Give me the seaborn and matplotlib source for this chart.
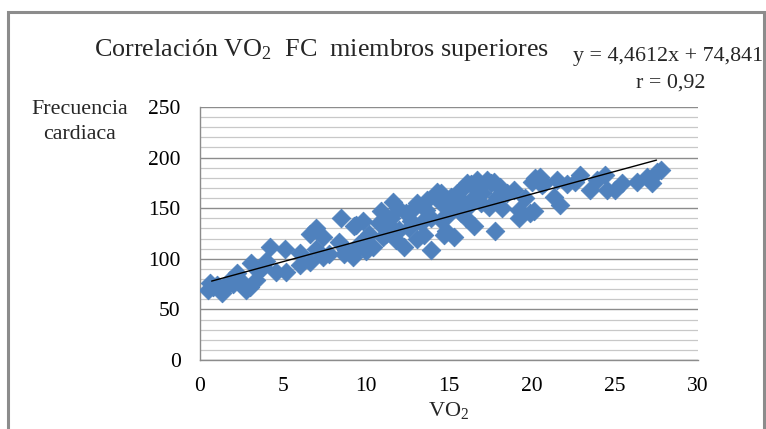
import numpy as np
import pandas as pd
import matplotlib
matplotlib.use("Agg")
import matplotlib.pyplot as plt
import seaborn as sns
from matplotlib.patches import Rectangle

# ---- data ----
vo2 = [0.5, 0.6, 0.8, 1.0, 1.3, 1.5, 1.8, 2.0, 2.2, 2.4, 2.6, 2.8, 3.0, 3.1, 3.4, 3.5, 3.8, 4.2, 4.6, 5.1,
       5.2, 4.0, 6.0, 6.0, 6.6, 6.6, 7.0, 7.4, 7.4, 7.0, 7.8, 8.4, 8.5, 8.7, 8.8, 9.2, 9.4, 9.6, 9.6, 9.8,
       9.9, 9.3, 10.0, 10.4, 10.8, 10.9, 11.2, 11.4, 11.6, 11.8, 11.9, 12.3, 12.4, 12.7, 13.1, 13.1, 13.3, 13.5, 13.7, 13.9,
       13.9, 14.3, 14.5, 14.5, 14.5, 14.7, 14.9, 12.0, 12.8, 11.0, 10.2, 15.1, 15.1, 15.3, 15.5, 15.7, 15.7, 15.9, 16.1, 16.3,
       16.3, 16.5, 16.7, 16.9, 17.0, 17.3, 17.4, 17.7, 17.8, 17.9, 18.1, 18.5, 18.9, 18.2, 16.0, 19.2, 19.2, 20.1, 20.0, 20.5,
       20.6, 21.3, 21.7, 21.5, 22.1, 22.9, 22.6, 23.5, 23.9, 24.4, 24.5, 25.0, 25.4, 26.3, 26.9, 27.2, 27.5, 27.8, 19.6, 14.8,
       16.1, 16.7, 17.5, 20.2, 20.7, 19.9, 15.5, 12.6, 13.6, 11.5]
fc = [69, 76, 72, 74, 66, 71, 79, 75, 86, 79, 73, 69, 72, 96, 79, 88, 92, 112, 87, 110,
      87, 98, 106, 94, 97, 125, 130, 122, 102, 110, 105, 117, 140, 105, 109, 102, 133, 112, 115, 137,
      119, 132, 108, 112, 135, 147, 125, 133, 156, 119, 150, 112, 145, 137, 155, 120, 135, 124, 158, 109,
      140, 166, 155, 138, 165, 124, 142, 128, 148, 122, 125, 148, 161, 122, 165, 145, 158, 171, 150, 174,
      158, 132, 168, 155, 165, 178, 151, 176, 127, 161, 171, 165, 168, 150, 140, 148, 140, 147, 176, 181,
      173, 161, 153, 178, 174, 183, 176, 168, 178, 183, 168, 168, 175, 176, 181, 175, 186, 188, 160, 127,
      175, 178, 175, 180, 175, 145, 155, 130, 148, 140]

slope = 4.4612
intercept = 74.841
r_value = 0.92

x_ticks = [0, 5, 10, 15, 20, 25, 30]
y_ticks = [0, 50, 100, 150, 200, 250]

title = "Correlación VO$_2$  FC  miembros superiores"
eq_text = "y = 4,4612x + 74,841"
r_text = "r = 0,92"
x_label = "VO$_2$"
y_label = "Frecuencia\ncardiaca"

df = pd.DataFrame({"VO2": vo2, "FC": fc})

# ---- style ----
sns.set_style("white")
plt.rcParams["font.family"] = ["Liberation Serif", "DejaVu Serif"]
plt.rcParams["mathtext.fontset"] = "custom"
plt.rcParams["mathtext.rm"] = "Liberation Serif"
plt.rcParams["mathtext.it"] = "Liberation Serif"
plt.rcParams["mathtext.default"] = "regular"

W, H = 766, 429
fig = plt.figure(figsize=(W / 100, H / 100), dpi=100)
fig.patch.set_facecolor("white")
ax = fig.add_axes([200 / W, 1 - 360 / H, 498 / W, 253 / H])

blue = "#4F81BD"
sns.scatterplot(data=df, x="VO2", y="FC", marker="D", s=90, color=blue,
                edgecolor=blue, linewidth=0.6, ax=ax, zorder=3, legend=False)

xs = np.array([min(vo2) + 0.2, max(vo2) - 0.3])
ax.plot(xs, slope * xs + intercept, color="black", lw=1.0, zorder=4)

ax.set_xlim(0, 30)
ax.set_ylim(0, 250)
ax.set_xticks(x_ticks)
ax.set_yticks(y_ticks)
ax.set_yticks(np.arange(0, 251, 10), minor=True)
ax.grid(which="major", axis="y", color="#8c8c8c", lw=1.0, zorder=0)
ax.grid(which="minor", axis="y", color="#c8c8c8", lw=0.9, zorder=0)
ax.set_axisbelow(True)
for s in ["top", "right"]:
    ax.spines[s].set_visible(False)
for s in ["left", "bottom"]:
    ax.spines[s].set_color("#8c8c8c")
    ax.spines[s].set_linewidth(1.0)
ax.tick_params(axis="both", which="major", direction="out", length=5, width=1.0,
               color="#8c8c8c", labelsize=15.5, labelcolor="black")
ax.tick_params(axis="y", which="minor", length=0)
ax.tick_params(axis="x", pad=7)
ax.tick_params(axis="y", pad=9)

ax.set_xlabel(x_label, fontsize=16, labelpad=3)
ax.set_ylabel("")

fig.text(322 / W, 1 - 50 / H, title, fontsize=18.8, ha="center", va="center")
fig.text(668 / W, 1 - 57 / H, eq_text, fontsize=15.8, ha="center", va="center")
fig.text(671 / W, 1 - 83 / H, r_text, fontsize=15.8, ha="center", va="center")
fig.text(80 / W, 1 - 122 / H, y_label, fontsize=15.8, ha="center", va="center",
         linespacing=1.45)

fig.add_artist(Rectangle((8 / W, -0.05), (764 - 8) / W, 1 - 12 / H + 0.05,
                         transform=fig.transFigure, fill=False,
                         edgecolor="#8c8c8c", lw=2.2))

fig.savefig("out.png", dpi=100)
